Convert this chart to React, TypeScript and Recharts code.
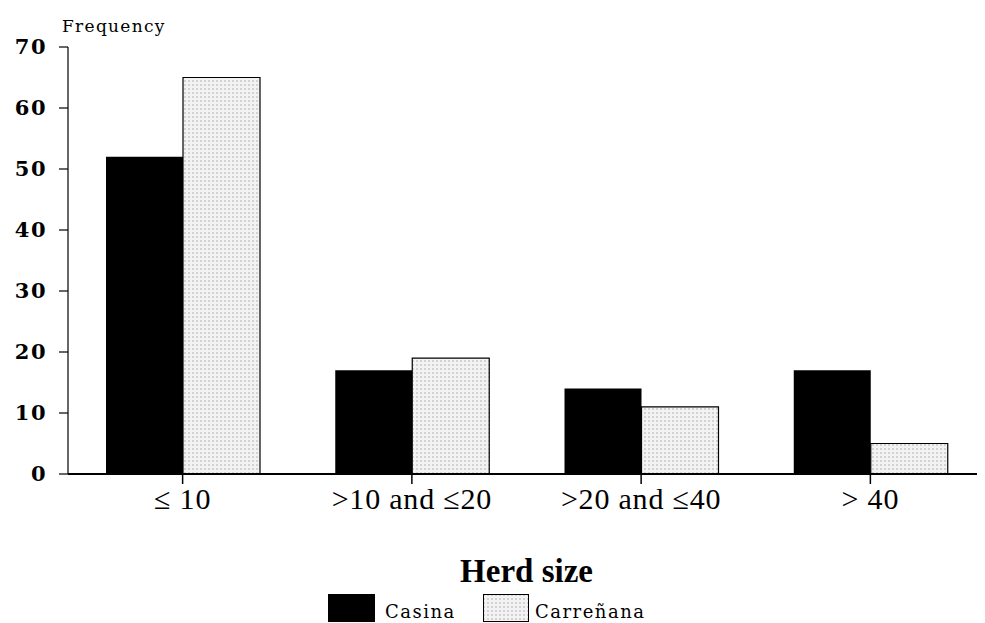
import { Bar, BarChart, Legend, XAxis, YAxis } from "recharts";

// Herd size classes and frequencies (%)
const categories = ["≤ 10", ">10 and ≤20", ">20 and ≤40", "> 40"];
const casina = [52, 17, 14, 17];
const carrenana = [65, 19, 11, 5];
const yTicks = [0, 10, 20, 30, 40, 50, 60, 70];

const data = categories.map((c, i) => ({
  herd: c,
  Casina: casina[i],
  "Carreñana": carrenana[i],
}));

const slab = "'DejaVu Serif', serif";
const times = "'Liberation Serif', 'Times New Roman', serif";

const LegendBox = () => (
  <div
    style={{
      display: "flex",
      alignItems: "flex-end",
      marginLeft: 320,
      fontFamily: slab,
      fontSize: 18,
      letterSpacing: 1.5,
      color: "#000",
    }}
  >
    <svg width={47} height={28} style={{ display: "block" }}>
      <rect x={0} y={0} width={47} height={28} fill="#000" />
    </svg>
    <span style={{ marginLeft: 10, width: 98, lineHeight: "20px" }}>Casina</span>
    <svg width={46} height={28} style={{ display: "block" }}>
      <rect x={0.5} y={0.5} width={45} height={27} fill="url(#dots)" stroke="#000" />
    </svg>
    <span style={{ marginLeft: 6, lineHeight: "20px" }}>Carreñana</span>
  </div>
);

const App = () => {
  return (
    <div style={{ width: 977, height: 615, background: "#fff" }}>
      <BarChart
        width={977}
        height={615}
        data={data}
        margin={{ top: 39, right: 0, left: 0, bottom: 0 }}
        barGap={0}
        barSize={77}
      >
        <defs>
          <pattern id="dots" width="4" height="4" patternUnits="userSpaceOnUse">
            <rect width="4" height="4" fill="#f3f3f3" />
            <circle cx="1" cy="1" r="0.7" fill="#999" />
          </pattern>
        </defs>
        <text x={54} y={24} fontFamily={slab} fontSize={17} letterSpacing={1.3} fill="#000">
          Frequency
        </text>
        <XAxis
          dataKey="herd"
          height={149}
          axisLine={{ stroke: "#000", strokeWidth: 2 }}
          tickLine={{ stroke: "#000", strokeWidth: 1.5 }}
          tickSize={10}
          tickMargin={4}
          tick={{ fontFamily: times, fontSize: 30, fill: "#000", letterSpacing: 0.8 }}
          label={{
            value: "Herd size",
            position: "insideBottom",
            offset: 41,
            style: { fontFamily: times, fontSize: 33, fontWeight: "bold", fill: "#000" },
          }}
        />
        <YAxis
          width={60}
          domain={[0, 70]}
          ticks={yTicks}
          interval={0}
          axisLine={{ stroke: "#000", strokeWidth: 1.2 }}
          tickLine={{ stroke: "#000", strokeWidth: 1.2 }}
          tickSize={9}
          tickMargin={12}
          tick={{ fontFamily: slab, fontSize: 21, fontWeight: "bold", fill: "#000", letterSpacing: 1.5 }}
        />
        <Legend
          layout="vertical"
          align="center"
          verticalAlign="middle"
          content={<LegendBox />}
          wrapperStyle={{ top: 586, left: 0, width: 977 }}
        />
        <Bar dataKey="Casina" fill="#000" isAnimationActive={false} />
        <Bar dataKey="Carreñana" fill="url(#dots)" stroke="#000" strokeWidth={1.2} isAnimationActive={false} />
      </BarChart>
    </div>
  );
};

export default App;
